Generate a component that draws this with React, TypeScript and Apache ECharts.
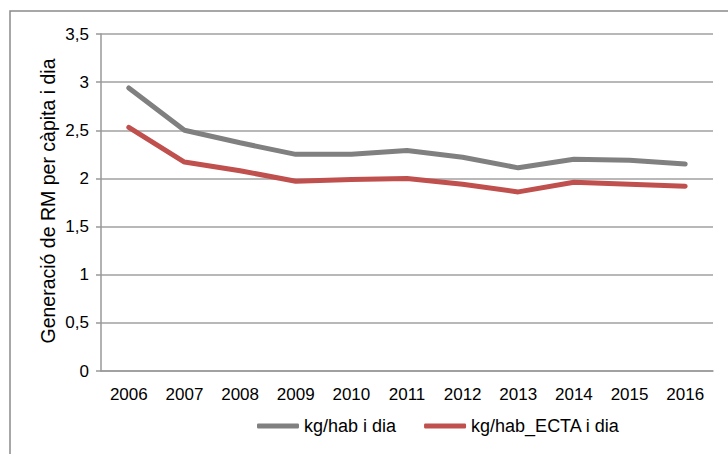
import React, { useEffect, useRef } from "react";
import * as echarts from "echarts";

const years = ["2006", "2007", "2008", "2009", "2010", "2011", "2012", "2013", "2014", "2015", "2016"];
const kgHabDia = [2.94, 2.5, 2.37, 2.25, 2.25, 2.29, 2.22, 2.11, 2.2, 2.19, 2.15];
const kgHabEctaDia = [2.53, 2.17, 2.08, 1.97, 1.99, 2.0, 1.94, 1.86, 1.96, 1.94, 1.92];
const seriesNames = ["kg/hab i dia", "kg/hab_ECTA i dia"];
const yAxisName = "Generació de RM per càpita i dia";

export default function App() {
  const ref = useRef<HTMLDivElement>(null);
  useEffect(() => {
    if (!ref.current) return;
    const chart = echarts.init(ref.current, undefined, { renderer: "svg" });
    const font = "Liberation Sans, Arial, sans-serif";
    chart.setOption({
      animation: false,
      backgroundColor: "#ffffff",
      textStyle: { fontFamily: font },
      graphic: [
        {
          type: "rect",
          shape: { x: 10, y: 11, width: 740, height: 470 },
          style: { fill: "none", stroke: "#8a8a8a", lineWidth: 1.5 },
          silent: true,
        },
        {
          type: "text",
          x: 47.5,
          y: 201,
          rotation: Math.PI / 2,
          style: {
            text: yAxisName,
            fontSize: 19.5,
            fontFamily: font,
            fill: "#000",
            align: "center",
            verticalAlign: "middle",
          },
          silent: true,
        },
      ],
      grid: { left: 101, right: 15, top: 34, bottom: 83 },
      legend: {
        data: seriesNames.map((n) => ({ name: n, icon: "roundRect" })),
        left: 252,
        top: 412,
        itemWidth: 42,
        itemHeight: 5,
        itemGap: 28,
        textStyle: { fontSize: 18, color: "#000", fontFamily: font },
      },
      xAxis: {
        type: "category",
        data: years,
        boundaryGap: true,
        axisLine: { lineStyle: { color: "#999", width: 1.5 } },
        axisTick: { show: false },
        axisLabel: { fontSize: 17, color: "#000", margin: 15, fontFamily: font },
      },
      yAxis: {
        type: "value",
        min: 0,
        max: 3.5,
        interval: 0.5,
        axisLine: { show: true, lineStyle: { color: "#999", width: 1.5 } },
        axisTick: { show: true, length: 5, lineStyle: { color: "#999", width: 1.5 } },
        axisLabel: {
          fontSize: 17,
          color: "#000",
          margin: 12,
          fontFamily: font,
          formatter: (v: number) => String(v).replace(".", ","),
        },
        splitLine: { lineStyle: { color: "#a0a0a0", width: 1.5 } },
      },
      series: [
        {
          name: seriesNames[0],
          type: "line",
          data: kgHabDia,
          symbol: "none",
          lineStyle: { color: "#808080", width: 5, cap: "round" },
          itemStyle: { color: "#808080" },
        },
        {
          name: seriesNames[1],
          type: "line",
          data: kgHabEctaDia,
          symbol: "none",
          lineStyle: { color: "#c0504d", width: 5, cap: "round" },
          itemStyle: { color: "#c0504d" },
        },
      ],
    });
    return () => chart.dispose();
  }, []);
  return (
    <div
      ref={ref}
      style={{ position: "absolute", left: 0, top: 0, width: 728, height: 454 }}
    />
  );
}
